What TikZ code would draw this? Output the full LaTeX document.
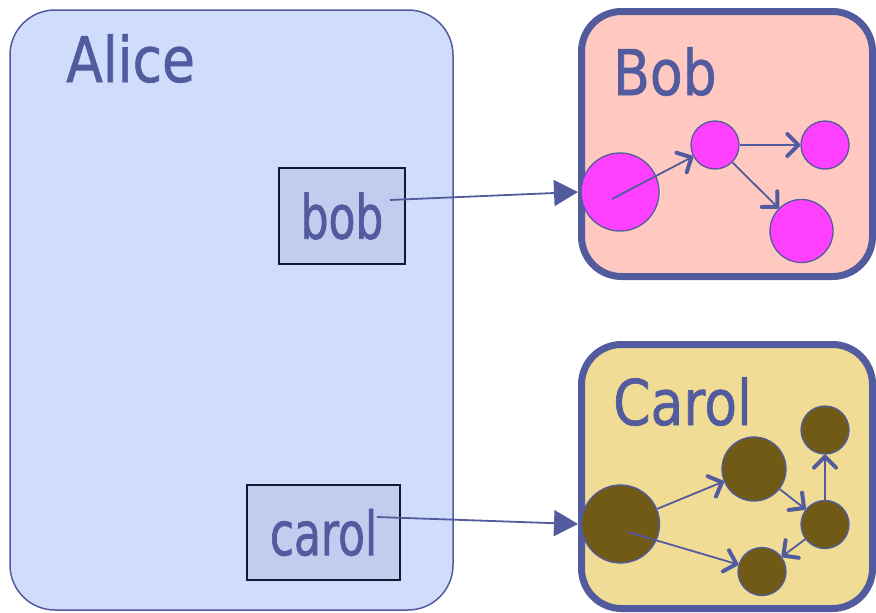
\documentclass[tikz,border=0pt]{standalone}
\usepackage{fontspec}
\setmainfont{DejaVu Sans}
\newfontfamily\titlefont[FakeStretch=0.85,FakeBold=1]{DejaVu Sans}
\newfontfamily\slotfont[FakeStretch=0.72,FakeBold=1]{DejaVu Sans}
\usetikzlibrary{arrows.meta}

\definecolor{ink}{RGB}{82,91,157}
\definecolor{alicefill}{RGB}{207,220,252}
\definecolor{slotfill}{RGB}{195,204,238}
\definecolor{slotline}{RGB}{20,25,50}
\definecolor{bobfill}{RGB}{255,200,192}
\definecolor{carolfill}{RGB}{240,220,148}
\definecolor{bobobj}{RGB}{255,64,255}
\definecolor{carolobj}{RGB}{112,90,22}

\begin{document}
\begin{tikzpicture}[x=1pt,y=-1pt,
    actor/.style={draw=ink,line width=7pt,rounded corners=40pt,inner sep=0},
    title/.style={text=ink,font=\titlefont\fontsize{63}{63}\selectfont,
      inner sep=0,anchor=base west},
    slot/.style={draw=slotline,fill=slotfill,line width=1.3pt,inner sep=0,
      text=ink,font=\slotfont\fontsize{61}{61}\selectfont},
    orb/.style={circle,draw=ink,line width=1.3pt,inner sep=0,minimum size=#1},
    link/.style={draw=ink,line width=1.8pt,
      -{Straight Barb[length=11pt,width=22pt,line width=4pt,round]}},
    ptr/.style={draw=ink,line width=1.8pt,-{Triangle[length=24pt,width=26pt]}}]
  \useasboundingbox (0,0) rectangle (876,613);

  % the three objects
  \node[actor,line width=1.5pt,rounded corners=45pt,fill=alicefill,
    minimum width=443pt,minimum height=600pt] at (231.5,310) (alice) {};
  \node[actor,fill=bobfill,minimum width=291pt,minimum height=265pt]
    at (727,144) (bob) {};
  \node[actor,fill=carolfill,minimum width=291pt,minimum height=264pt]
    at (727,476.5) (carol) {};
  \node[title] at (66,82) (alicename) {Alice};
  \node[title] at (613,95) (bobname) {Bob};
  \node[title] at (613,425) (carolname) {Carol};

  % references held by alice
  \node[slot,minimum width=126pt,minimum height=96pt] at (342,216) (bobref) {bob};
  \node[slot,minimum width=153pt,minimum height=95pt] at (323.5,532.5) (carolref) {carol};

  % bob's object graph
  \node[orb=78pt,fill=bobobj] at (620,192) (b1) {};
  \node[orb=48pt,fill=bobobj] at (715,145) (b2) {};
  \node[orb=48pt,fill=bobobj] at (825,145) (b3) {};
  \node[orb=63pt,fill=bobobj] at (801.5,231) (b4) {};
  \draw[link] ([shift={(-8,7)}]b1.center) -- (b2);
  \draw[link] (b2) -- (b3);
  \draw[link] (b2) -- (b4);

  % carol's object graph
  \node[orb=78pt,fill=carolobj] at (620.5,524) (c1) {};
  \node[orb=64pt,fill=carolobj] at (754,469) (c2) {};
  \node[orb=48pt,fill=carolobj] at (825,430) (c3) {};
  \node[orb=48pt,fill=carolobj] at (825,524.5) (c4) {};
  \node[orb=48pt,fill=carolobj] at (762,571.5) (c5) {};
  \draw[link] (c1) -- (c2);
  \draw[link] ([shift={(7.5,8)}]c1.center) -- (c5);
  \draw[link] (c2) -- (c4);
  \draw[link] (c4) -- (c3);
  \draw[link] (c4) -- (c5);

  % pointers
  \coordinate (bobtail) at (390,200);
  \coordinate (caroltail) at (377,517);
  \draw[ptr] (bobtail) -- (bob.west |- b1);
  \draw[ptr] (caroltail) -- (carol.west |- c1);
\end{tikzpicture}
\end{document}
